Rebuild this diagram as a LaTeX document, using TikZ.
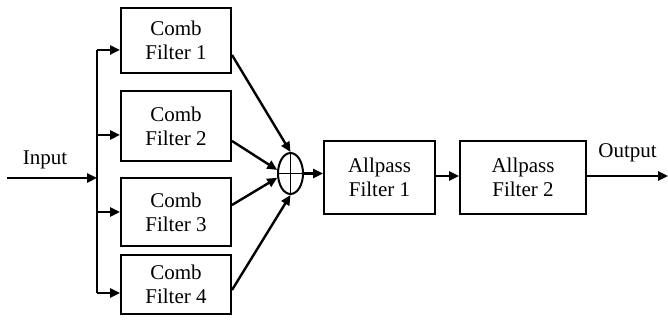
\documentclass[tikz,border=0pt]{standalone}
\usepackage{fontspec}
\setmainfont{Liberation Serif}
\usetikzlibrary{arrows.meta,shapes.geometric,calc}
\begin{document}
\begin{tikzpicture}[x=0.5pt,y=-0.5pt,
  block/.style={draw,line width=1pt,align=center,inner sep=0pt,
    font=\fontsize{10.5}{12}\selectfont},
  sig/.style={line width=1.2pt,-{Triangle[length=5pt,width=4.5pt]}},
  wire/.style={line width=1.2pt},
  lbl/.style={font=\fontsize{10.5}{12}\selectfont,inner sep=0pt,anchor=base}]
\useasboundingbox (0,0) rectangle (668,324);
% comb filter bank
\node[block,minimum width=55pt,minimum height=32.5pt] (c1) at (176,40.5) {Comb\\Filter 1};
\node[block,minimum width=55pt,minimum height=35pt] (c2) at (176,126) {Comb\\Filter 2};
\node[block,minimum width=55pt,minimum height=34pt] (c3) at (176,212) {Comb\\Filter 3};
\node[block,minimum width=55pt,minimum height=29.5pt] (c4) at (176,284.5) {Comb\\Filter 4};
% summing junction
\node[ellipse,draw,line width=1pt,minimum width=12.5pt,minimum height=20.5pt,inner sep=0pt] (sum) at (290.5,173.5) {};
\draw[line width=0.9pt] (sum.north) -- (sum.south) (sum.west) -- (sum.east);
% allpass chain
\node[block,minimum width=55.5pt,minimum height=36.5pt] (a1) at (379.5,177.5) {Allpass\\Filter 1};
\node[block,minimum width=63pt,minimum height=36.5pt] (a2) at (523,177.5) {Allpass\\Filter 2};
% input and distribution bus
\coordinate (in) at (7,178);
\coordinate (j) at (97,178);
\coordinate (b1) at (97,50);
\coordinate (b2) at (97,135);
\coordinate (b3) at (97,212);
\coordinate (b4) at (97,293);
\coordinate (out) at (668,176);
\node[lbl] (inl) at (45,165) {Input};
\node[lbl] (outl) at (627.5,158) {Output};
\draw[sig] (in) -- (j);
\draw[wire] (b1) -- (b4);
\draw[sig] (b1) -- (b1 -| c1.west);
\draw[sig] (b2) -- (b2 -| c2.west);
\draw[sig] (b3) -- (b3 -| c3.west);
\draw[sig] (b4) -- (b4 -| c4.west);
% comb outputs into the sum
\draw[sig] ($(c1.east)+(0,14.5)$) -- (sum.north);
\draw[sig] ($(c2.east)+(0,15)$) -- (sum.165);
\draw[sig] ($(c3.east)+(0,-7)$) -- (sum.198);
\draw[sig] ($(c4.east)+(0,5.5)$) -- (sum.south);
% sum through allpass chain to output
\draw[sig] (sum.east) -- (sum.east -| a1.west);
\draw[sig] (a1.east |- 0,176) -- (a2.west |- 0,176);
\draw[sig] (a2.east |- out) -- (out);
\end{tikzpicture}
\end{document}
